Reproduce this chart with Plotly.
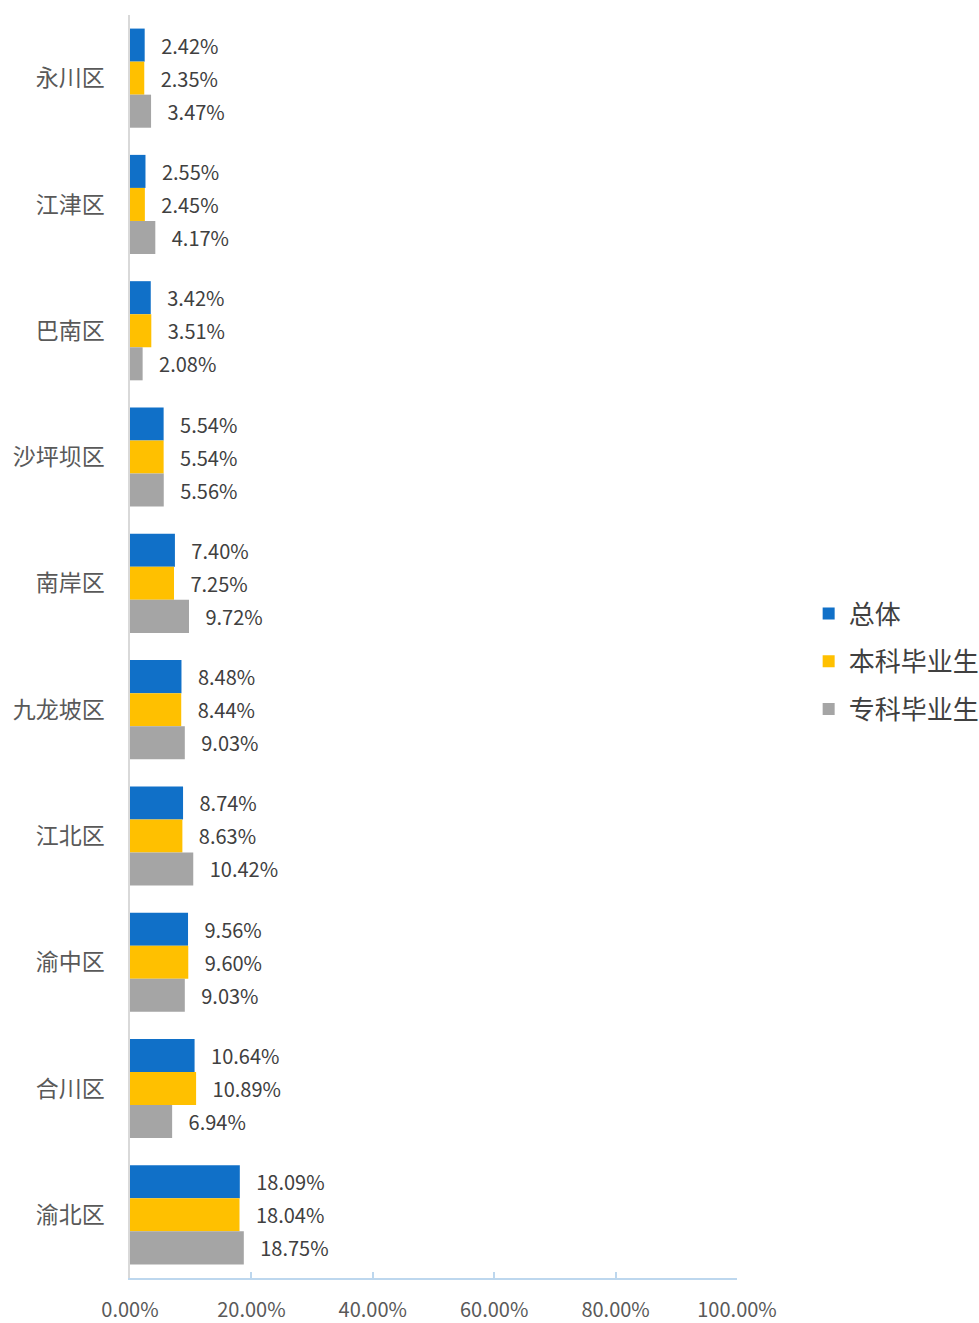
import plotly.graph_objects as go

categories = ["永川区", "江津区", "巴南区", "沙坪坝区", "南岸区", "九龙坡区", "江北区", "渝中区", "合川区", "渝北区"]
overall = [2.42, 2.55, 3.42, 5.54, 7.40, 8.48, 8.74, 9.56, 10.64, 18.09]
bachelor = [2.35, 2.45, 3.51, 5.54, 7.25, 8.44, 8.63, 9.60, 10.89, 18.04]
associate = [3.47, 4.17, 2.08, 5.56, 9.72, 9.03, 10.42, 9.03, 6.94, 18.75]
series_names = ["总体", "本科毕业生", "专科毕业生"]
colors = ["#1070C8", "#FFC000", "#A5A5A5"]
x_ticks = [0, 0.2, 0.4, 0.6, 0.8, 1.0]

FONT = "Noto Sans CJK SC, Microsoft YaHei, sans-serif"

fig = go.Figure()
for name, vals, col in zip(series_names, [overall, bachelor, associate], colors):
    xs = [v / 100 for v in vals]
    fig.add_trace(go.Bar(
        y=categories, x=xs, name=name, orientation="h",
        marker=dict(color=col, line=dict(width=0)),
        text=["\u00a0\u00a0\u00a0" + f"{v:.2f}%" for v in vals],
        textposition="outside", cliponaxis=False,
        textfont=dict(size=20, color="#404040", family=FONT),
        legendgroup=name,
        hoverinfo="skip",
    ))

fig.update_layout(
    width=979, height=1323,
    margin=dict(l=130, r=242, t=15, b=45, autoexpand=False),
    paper_bgcolor="white", plot_bgcolor="white",
    barmode="group", bargap=0.215, bargroupgap=0,
    font=dict(family=FONT, color="#595959"),
    showlegend=True,
    legend=dict(
        xref="container", yref="container",
        x=0.826, xanchor="left", y=0.5, yanchor="middle",
        font=dict(size=26, color="#404040", family=FONT),
        tracegroupgap=11, traceorder="grouped",
        bgcolor="rgba(0,0,0,0)",
        itemwidth=30,
    ),
    uniformtext=dict(mode=False),
)
fig.update_xaxes(
    range=[0, 1], tickvals=x_ticks, tickformat=".2%",
    showgrid=False, zeroline=False, automargin=False,
    showline=True, linecolor="#BDD7EE", linewidth=1.5,
    ticks="inside", ticklen=6, tickcolor="#BDD7EE", tickwidth=1.5,
    tickfont=dict(size=20, color="#595959", family=FONT),
    ticklabelstandoff=13,
)
fig.update_yaxes(
    autorange="reversed", showgrid=False, zeroline=False, automargin=False,
    showline=True, linecolor="#D9D9D9", linewidth=1.5,
    ticks="", tickfont=dict(size=23, color="#595959", family=FONT),
    ticklabelstandoff=19,
)

fig.write_html(
    "out.html",
    config={"displayModeBar": False},
    post_script="document.body.style.margin='0';document.body.style.overflow='hidden';",
)
